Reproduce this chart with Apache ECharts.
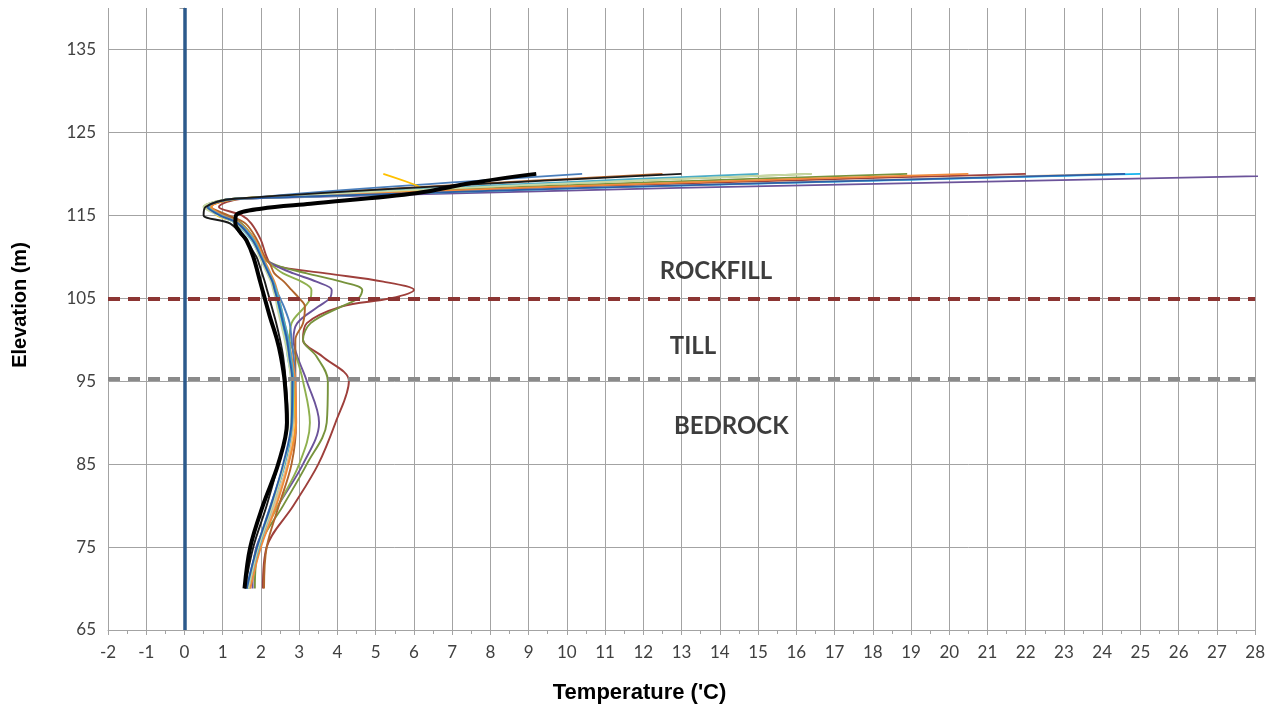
<!DOCTYPE html>
<html><head><meta charset="utf-8">
<script src="https://cdn.jsdelivr.net/npm/echarts@6/dist/echarts.min.js"></script>
<style>html,body{margin:0;padding:0;background:#fff}#c{width:1268px;height:709px}</style>
</head><body><div id="c"></div>
<script>
// Elevations (m) shared by most profiles
const elev = [70, 75, 80, 85, 90, 95, 98, 100, 102, 104, 105, 106, 107, 108, 109, 110, 112, 114, 115, 116, 117, 120];
const elevYellow = [70, 75, 80, 85, 90, 95, 98, 100, 102, 104, 105, 106, 107, 108, 109, 110, 112, 114, 115, 116, 117, 118.3, 120];
const elevBlack = [70, 75, 80, 85, 90, 95, 98, 100, 103, 107, 110, 112, 113, 114, 115, 115.8, 116.4, 117.7, 118.9, 120];

// Temperatures ('C) per profile
const tRed      = [2.05, 2.15, 2.85, 3.5, 3.95, 4.3, 3.6, 3.1, 3.2, 4.1, 5.4, 6.0, 5.2, 3.7, 2.3, 2.15, 2.0, 1.75, 1.5, 0.9, 1.5, 22.0];
const tOlive    = [1.84, 1.95, 2.58, 3.2, 3.72, 3.75, 3.45, 3.1, 3.3, 4.1, 4.55, 4.65, 4.1, 3.2, 2.4, 2.05, 1.85, 1.5, 1.1, 0.5, 1.3, 18.9];
const tPurple   = [1.78, 1.88, 2.45, 3.1, 3.52, 3.2, 2.95, 2.85, 2.95, 3.5, 3.8, 3.85, 3.45, 2.85, 2.35, 2.05, 1.8, 1.45, 1.0, 0.6, 1.3, 31.0];
const tGreen    = [1.71, 1.9, 2.45, 3.0, 3.28, 3.1, 2.92, 2.75, 2.8, 3.15, 3.3, 3.32, 3.06, 2.58, 2.28, 2.05, 1.8, 1.4, 0.95, 0.55, 1.3, 16.4];
const tBrown    = [2.08, 2.15, 2.47, 2.8, 2.92, 2.9, 2.9, 2.9, 3.1, 3.15, 3.0, 2.8, 2.6, 2.35, 2.25, 2.1, 1.9, 1.6, 1.15, 0.7, 1.4, 12.5];
const tBlue     = [1.62, 1.9, 2.25, 2.6, 2.85, 2.9, 2.85, 2.8, 2.75, 2.6, 2.5, 2.4, 2.3, 2.2, 2.1, 2.0, 1.8, 1.45, 1.0, 0.65, 1.4, 10.4];
const tYellow   = [1.68, 1.95, 2.35, 2.7, 2.9, 2.85, 2.75, 2.7, 2.6, 2.5, 2.45, 2.4, 2.3, 2.2, 2.1, 1.98, 1.78, 1.4, 0.85, 0.7, 1.4, 6.2, 5.2];
const tCyan     = [1.64, 1.92, 2.28, 2.62, 2.8, 2.8, 2.7, 2.65, 2.55, 2.45, 2.4, 2.35, 2.28, 2.18, 2.08, 1.98, 1.75, 1.35, 0.9, 0.6, 1.35, 25.0];
const tPeach    = [1.7, 1.98, 2.35, 2.68, 2.85, 2.82, 2.75, 2.68, 2.6, 2.5, 2.45, 2.4, 2.32, 2.22, 2.12, 2.02, 1.8, 1.38, 0.92, 0.58, 1.35, 24.2];
const tOrange   = [1.72, 2.0, 2.4, 2.72, 2.92, 2.9, 2.8, 2.72, 2.62, 2.52, 2.47, 2.42, 2.35, 2.25, 2.15, 2.05, 1.85, 1.45, 1.0, 0.7, 1.4, 20.5];
const tAqua     = [1.66, 1.95, 2.3, 2.62, 2.82, 2.85, 2.78, 2.72, 2.62, 2.52, 2.46, 2.4, 2.32, 2.22, 2.12, 2.02, 1.82, 1.42, 0.95, 0.62, 1.38, 15.0];
const tPale     = [1.67, 1.93, 2.3, 2.6, 2.78, 2.78, 2.7, 2.62, 2.52, 2.42, 2.38, 2.32, 2.26, 2.16, 2.06, 1.96, 1.76, 1.36, 0.88, 0.5, 1.3, 16.4];
const tNavy     = [1.63, 1.9, 2.26, 2.58, 2.8, 2.82, 2.74, 2.68, 2.58, 2.48, 2.42, 2.36, 2.3, 2.2, 2.1, 2.0, 1.78, 1.4, 0.92, 0.6, 1.35, 24.6];
const tThin     = [1.58, 1.8, 2.15, 2.45, 2.7, 2.65, 2.58, 2.5, 2.4, 2.28, 2.22, 2.16, 2.1, 2.03, 1.96, 1.88, 1.6, 1.2, 0.5, 0.55, 1.3, 13.0];
const tBlack    = [1.57, 1.72, 2.05, 2.45, 2.68, 2.62, 2.52, 2.42, 2.22, 1.98, 1.8, 1.62, 1.45, 1.33, 1.35, 2.0, 3.3, 6.1, 7.5, 9.2];

const profNames  = ['red', 'olive', 'purple', 'green', 'brown', 'blue', 'yellow', 'cyan', 'peach', 'orange', 'aqua', 'pale', 'navy', 'thin black'];
const profTemps  = [tRed, tOlive, tPurple, tGreen, tBrown, tBlue, tYellow, tCyan, tPeach, tOrange, tAqua, tPale, tNavy, tThin];
const profElevs  = [elev, elev, elev, elev, elev, elev, elevYellow, elev, elev, elev, elev, elev, elev, elev];
const profColors = ['#9e3f3b', '#77933c', '#6b539a', '#8fb04f', '#b0642c', '#4a7ebb', '#ffc000', '#16b4ee', '#e3bd92', '#f08a3c', '#4bacc6', '#c9d8a6', '#2a5ea8', '#1a1a1a'];

// Reference lines and annotations
const zeroLineX = 0;
const rockfillTillY = 105;
const tillBedrockY = 95.3;
const annotText = ['ROCKFILL', 'TILL', 'BEDROCK'];
const annotX = [13.9, 13.3, 14.3];
const annotY = [108.2, 99.2, 89.6];

const pairs = (t, e) => t.map((v, i) => [v, e[i]]);

const series = profTemps.map((t, k) => ({
  name: profNames[k], type: 'line', smooth: 0.35, showSymbol: false, symbol: 'none',
  data: pairs(t, profElevs[k]), clip: true, silent: true,
  lineStyle: { width: 1.9, color: profColors[k] }, z: 3 + k * 0.01
}));
series.push({
  name: 'final', type: 'line', smooth: 0.35, symbol: 'none', data: pairs(tBlack, elevBlack),
  lineStyle: { width: 4, color: '#000' }, z: 5, clip: true, silent: true
});
series.push({
  name: 'refs', type: 'line', data: [], symbol: 'none', z: 6, silent: true,
  markLine: {
    symbol: 'none', silent: true, label: { show: false }, animation: false,
    data: [
      { xAxis: zeroLineX, lineStyle: { color: '#2c5a8c', width: 3.5, type: 'solid' } },
      { yAxis: rockfillTillY, lineStyle: { color: '#8c3533', width: 4, type: [12, 8] } },
      { yAxis: tillBedrockY, lineStyle: { color: '#8a8a8a', width: 4, type: [12, 8] } }
    ]
  }
});
series.push({
  name: 'labels', type: 'scatter', symbolSize: 1, itemStyle: { color: 'rgba(0,0,0,0)' }, z: 7, silent: true,
  data: annotText.map((s, i) => ({ name: s, value: [annotX[i], annotY[i]] })),
  label: { show: true, position: 'inside', formatter: p => p.name, color: '#0d0d0d',
           textBorderWidth: 0, textBorderColor: 'transparent',
           fontFamily: 'Lato', fontWeight: 'bold', fontSize: 24 }
});

const gridCol = '#a3a3a3';
const chart = echarts.init(document.getElementById('c'), null, { renderer: 'canvas' });
chart.setOption({
  animation: false,
  backgroundColor: '#fff',
  grid: { left: 108, right: 12, top: 8, bottom: 77, containLabel: false },
  xAxis: {
    type: 'value', min: -2, max: 28, interval: 1,
    name: "Temperature ('C)", nameLocation: 'middle', nameGap: 52,
    nameTextStyle: { fontFamily: 'Liberation Sans', fontWeight: 'bold', fontSize: 22, color: '#000', padding: [0, 84, 0, 0] },
    axisLine: { show: true, lineStyle: { color: gridCol, width: 1 } },
    axisTick: { show: true, length: 5, lineStyle: { color: gridCol } },
    minorTick: { show: true, splitNumber: 2, length: 4, lineStyle: { color: gridCol } },
    axisLabel: { fontFamily: 'Lato', fontSize: 17, color: '#404040', margin: 14 },
    splitLine: { show: true, lineStyle: { color: gridCol, width: 1 } }
  },
  yAxis: {
    type: 'value', min: 65, max: 140, interval: 10,
    name: 'Elevation (m)', nameLocation: 'middle', nameGap: 78, nameRotate: 90,
    nameTextStyle: { fontFamily: 'Liberation Sans', fontWeight: 'bold', fontSize: 20, color: '#000', padding: [0, 0, 0, 28] },
    axisLine: { show: true, lineStyle: { color: gridCol, width: 1 } },
    axisTick: { show: true, length: 5, lineStyle: { color: gridCol } },
    axisLabel: { fontFamily: 'Lato', fontSize: 17, color: '#404040', margin: 12,
                 formatter: v => (v === 140 ? '' : String(v)) },
    splitLine: { show: true, lineStyle: { color: [gridCol, gridCol, gridCol, gridCol, gridCol, gridCol, gridCol, gridCol, 'rgba(0,0,0,0)'], width: 1 } }
  },
  series: series
});
</script></body></html>
